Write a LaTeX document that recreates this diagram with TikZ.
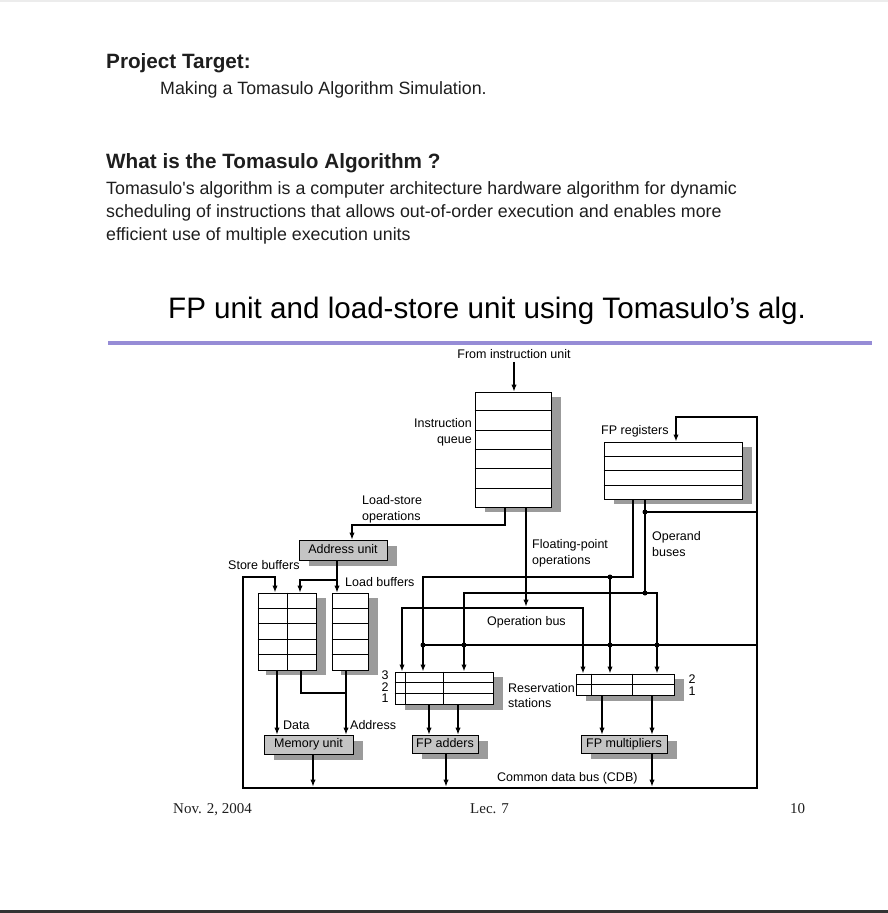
\documentclass[tikz,border=0pt]{standalone}
\usepackage{fontspec}
\setmainfont{Liberation Sans}
\newfontfamily\timesf{Liberation Serif}
\usetikzlibrary{arrows.meta,calc,shadows}
\definecolor{boxgray}{RGB}{196,196,196}
\definecolor{shgray}{RGB}{155,155,155}
\definecolor{rulepurple}{RGB}{150,140,214}
\definecolor{txt}{RGB}{30,30,30}
\begin{document}
\begin{tikzpicture}[x=1pt,y=-1pt,
  thinl/.style={line width=1.1pt},
  thickl/.style={line width=2.4pt},
  arr/.style={-{Latex[length=7pt,width=5.4pt]}},
  barr/.style={{Latex[length=7pt,width=5.4pt]}-{Latex[length=7pt,width=5.4pt]}},
  lab/.style={font=\fontsize{12.5}{15}\selectfont, inner sep=0pt},
  regbox/.style={draw, line width=1pt, fill=white, inner sep=0pt,
    general shadow={fill=shgray, shadow xshift=10pt, shadow yshift=-5pt}},
  unitbox/.style={draw, line width=1pt, fill=boxgray, inner sep=0pt,
    text height=9pt, text depth=2.6pt,
    font=\fontsize{12.5}{15}\selectfont,
    general shadow={fill=shgray, shadow xshift=10pt, shadow yshift=-6pt}},
  jdot/.style={circle, fill, inner sep=0pt, minimum size=5pt},
  head/.style={font=\bfseries\fontsize{20.7}{24}\selectfont, inner sep=0pt, anchor=base west, text=txt},
  body/.style={font=\fontsize{17.8}{22}\selectfont, inner sep=0pt, anchor=base west, text=txt},
  foot/.style={font=\timesf\fontsize{15}{18}\selectfont, inner sep=0pt, anchor=base west, text=txt},
]
\useasboundingbox (0,0) rectangle (888,913);
\fill[white] (0,0) rectangle (888,913);
\draw[gray!15, line width=1.5pt] (0,1) -- (888,1);
\draw[black!80, line width=2.5pt] (0,911.7) -- (888,911.7);

% ---------- header texts ----------
\node[head] (pt) at (106,68) {Project Target:};
\node[body] (mk) at (160,94) {Making a Tomasulo Algorithm Simulation.};
\node[head] (wh) at (106,168) {What is the Tomasulo Algorithm ?};
\node[body] (p1) at (106,194) {Tomasulo\textquotesingle s algorithm is a computer architecture hardware algorithm for dynamic};
\node[body] (p2) at (106,217) {scheduling of instructions that allows out-of-order execution and enables more};
\node[body] (p3) at (106,240) {efficient use of multiple execution units};
\node[font=\fontsize{29.6}{34}\selectfont, inner sep=0pt, anchor=base west] (ttl) at (168,318) {FP unit and load-store unit using Tomasulo’s alg.};
\draw[rulepurple, line width=3.6pt] (108,343) -- (872,343);

% ---------- boxes ----------
\node[regbox, minimum width=76pt, minimum height=115pt] (iq) at (513,449.5) {};
\foreach \i in {1,...,5}
  \draw[line width=1pt] ($(iq.north west)!\i/6!(iq.south west)$) -- ($(iq.north east)!\i/6!(iq.south east)$);

\node[regbox, minimum width=138pt, minimum height=57pt] (fpr) at (673,470.5) {};
\foreach \i in {1,...,3}
  \draw[line width=1pt] ($(fpr.north west)!\i/4!(fpr.south west)$) -- ($(fpr.north east)!\i/4!(fpr.south east)$);

\node[unitbox, minimum width=88pt, minimum height=20pt] (au) at (343,550) {Address unit};

\node[regbox, minimum width=58pt, minimum height=77pt,
  general shadow={fill=shgray, shadow xshift=8pt, shadow yshift=-5pt}] (sb) at (287,631.5) {};
\foreach \i in {1,...,4}
  \draw[line width=1pt] ($(sb.north west)!\i/5!(sb.south west)$) -- ($(sb.north east)!\i/5!(sb.south east)$);
\draw[line width=1pt] (sb.north) -- (sb.south);

\node[regbox, minimum width=36pt, minimum height=77pt,
  general shadow={fill=shgray, shadow xshift=9pt, shadow yshift=-5pt}] (lb) at (350,631.5) {};
\foreach \i in {1,...,4}
  \draw[line width=1pt] ($(lb.north west)!\i/5!(lb.south west)$) -- ($(lb.north east)!\i/5!(lb.south east)$);

\node[unitbox, minimum width=89pt, minimum height=19pt] (mu) at (308.5,744.5) {Memory unit};

\node[regbox, minimum width=98pt, minimum height=32pt,
  general shadow={fill=shgray, shadow xshift=10pt, shadow yshift=-6pt}] (rsa) at (444,688) {};
\foreach \i in {1,2}
  \draw[line width=1pt] ($(rsa.north west)!\i/3!(rsa.south west)$) -- ($(rsa.north east)!\i/3!(rsa.south east)$);
\draw[line width=1pt] ($(rsa.north west)!0.115!(rsa.north east)$) -- ($(rsa.south west)!0.115!(rsa.south east)$);
\draw[line width=1pt] ($(rsa.north west)!0.49!(rsa.north east)$) -- ($(rsa.south west)!0.49!(rsa.south east)$);

\node[unitbox, minimum width=66pt, minimum height=18pt] (fpa) at (445,744) {FP adders};

\node[regbox, minimum width=98pt, minimum height=21pt,
  general shadow={fill=shgray, shadow xshift=10pt, shadow yshift=-6pt}] (rsm) at (625,684.5) {};
\draw[line width=1pt] (rsm.west) -- (rsm.east);
\draw[line width=1pt] ($(rsm.north west)!0.163!(rsm.north east)$) -- ($(rsm.south west)!0.163!(rsm.south east)$);
\draw[line width=1pt] ($(rsm.north west)!0.571!(rsm.north east)$) -- ($(rsm.south west)!0.571!(rsm.south east)$);

\node[unitbox, minimum width=86pt, minimum height=18pt] (fpm) at (624,744) {FP multipliers};

% ---------- labels ----------
\node[lab, anchor=base] (fiu) at (514,358.5) {From instruction unit};
\node[lab, anchor=base east] (iql1) at (472,427.5) {Instruction};
\node[lab, anchor=base east] (iql2) at (472,443.5) {queue};
\node[lab, anchor=base west] (fprl) at (601,434.5) {FP registers};
\node[lab, anchor=base west] (lsl1) at (362,504.5) {Load-store};
\node[lab, anchor=base west] (lsl2) at (362,520.5) {operations};
\node[lab, anchor=base west] (obl1) at (652,540.5) {Operand};
\node[lab, anchor=base west] (obl2) at (652,556) {buses};
\node[lab, anchor=base west] (fpl1) at (532,548.5) {Floating-point};
\node[lab, anchor=base west] (fpl2) at (532,564) {operations};
\node[lab, anchor=base west] (sbl) at (228,569.5) {Store buffers};
\node[lab, anchor=base west] (lbl) at (345,586.5) {Load buffers};
\node[lab, anchor=base west] (opl) at (487,625.5) {Operation bus};
\node[lab, anchor=base] (n3) at (385,679.5) {3};
\node[lab, anchor=base] (n2) at (385,691) {2};
\node[lab, anchor=base] (n1) at (385,702.5) {1};
\node[lab, anchor=base] (m2) at (692,683) {2};
\node[lab, anchor=base] (m1) at (692,695) {1};
\node[lab, anchor=base west] (rsl1) at (508,692.5) {Reservation};
\node[lab, anchor=base west] (rsl2) at (508,707) {stations};
\node[lab, anchor=base west] (datl) at (283,729.5) {Data};
\node[lab, anchor=base west] (adl) at (350,729.5) {Address};
\node[lab, anchor=base west] (cdbl) at (497,781.5) {Common data bus (CDB)};

% ---------- coordinates ----------
\coordinate (lsb) at (505,525);
\coordinate (lsc) at (352,525);
\coordinate (aub) at (337,580);
\coordinate (sbc) at (300,580);
\coordinate (fpo) at (526,606.5);
\coordinate (dat) at (277,700);
\coordinate (adr) at (346,693);
\coordinate (sbj) at (301,693);
\coordinate (muo) at (313,786.5);
\coordinate (fa1) at (429,720);
\coordinate (fa2) at (458,720);
\coordinate (fao) at (446,786.5);
\coordinate (fm1) at (602,720);
\coordinate (fm2) at (652,720);
\coordinate (fmo) at (652,786.5);
\coordinate (cL) at (243,788);
\coordinate (cR) at (757,788);
\coordinate (lT) at (243,577);
\coordinate (sbin) at (275,577);
\coordinate (rT) at (757,417);
\coordinate (fT) at (676,417);
\coordinate (bR) at (757,645);
\coordinate (bL) at (423,645);
\coordinate (o1c) at (633,577);
\coordinate (o1L) at (423,577);
\coordinate (o1m) at (610,577);
\coordinate (o2t) at (645,512);
\coordinate (o2tR) at (757,512);
\coordinate (o2j) at (645,593);
\coordinate (o2L) at (464,593);
\coordinate (o2R) at (657,593);
\coordinate (opL) at (402,608);
\coordinate (opR) at (583,608);

% ---------- thin connectors ----------
\draw[thinl,arr,shorten <=3pt] (fiu.south) -- (fiu.south |- iq.north);
\draw[thinl,arr] (iq.south -| lsb) -- (lsb) -- (lsc) -- (au.north -| lsc);
\draw[thinl,arr] (au.south -| aub) -- (lb.north -| aub);
\draw[thinl,arr] (aub) -- (sbc) -- (sb.north -| sbc);
\draw[thinl,arr] (iq.south -| fpo) -- (fpo);
\draw[thinl,arr] (sb.south -| dat) -- (mu.north -| dat);
\draw[thinl,arr] (lb.south -| adr) -- (mu.north -| adr);
\draw[thinl] (sb.south -| sbj) -- (sbj) -- (adr);
\draw[thinl,arr] (mu.south -| muo) -- (muo);
\draw[thinl,arr] (rsa.south -| fa1) -- (fpa.north -| fa1);
\draw[thinl,arr] (rsa.south -| fa2) -- (fpa.north -| fa2);
\draw[thinl,arr] (fpa.south -| fao) -- (fao);
\draw[thinl,arr] (rsm.south -| fm1) -- (fpm.north -| fm1);
\draw[thinl,arr] (rsm.south -| fm2) -- (fpm.north -| fm2);
\draw[thinl,arr] (fpm.south -| fmo) -- (fmo);

% ---------- thick buses ----------
\draw[thickl,barr] (sb.north -| sbin) -- (sbin) -- (lT) -- (cL) -- (cR) -- (rT) -- (fT) -- (fpr.north -| fT);
\draw[thickl] (bR) -- (bL);
\draw[thickl,arr] (fpr.south -| o1c) -- (o1c) -- (o1L) -- (rsa.north -| o1L);
\draw[thickl,arr] (o1m) -- (rsm.north -| o1m);
\draw[thickl] (fpr.south -| o2t) -- (o2j);
\draw[thickl] (o2t) -- (o2tR);
\draw[thickl,barr] (rsa.north -| o2L) -- (o2L) -- (o2R) -- (rsm.north -| o2R);
\draw[thickl,barr] (rsa.north -| opL) -- (opL) -- (opR) -- (rsm.north -| opR);

\node[jdot] (d1) at (423,645) {};
\node[jdot] (d2) at (464,645) {};
\node[jdot] (d3) at (610,645) {};
\node[jdot] (d4) at (657,645) {};
\node[jdot] (d5) at (610,577) {};
\node[jdot] (d6) at (645,593) {};
\node[jdot] (d7) at (645,512) {};

% ---------- footer ----------
\node[foot] (f1) at (173,813) {Nov. 2, 2004};
\node[foot] (f2) at (470,813) {Lec. 7};
\node[foot] (f3) at (790,813) {10};
\end{tikzpicture}
\end{document}
